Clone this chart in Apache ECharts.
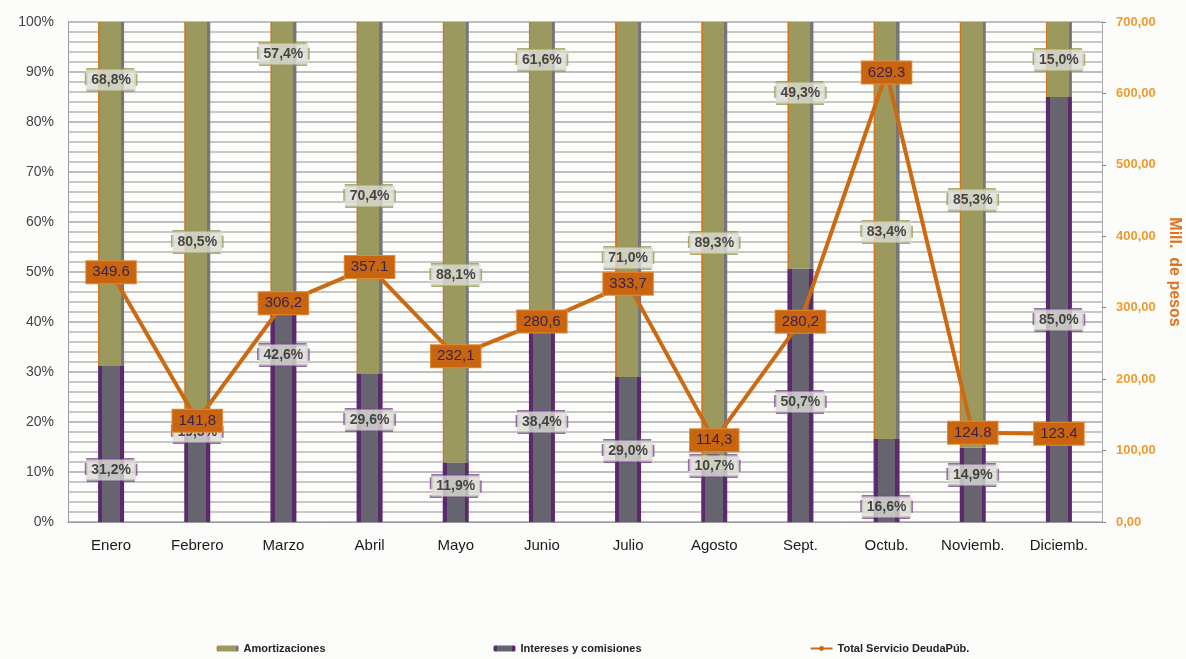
<!DOCTYPE html>
<html>
<head>
<meta charset="utf-8">
<script src="https://cdn.jsdelivr.net/npm/echarts@6/dist/echarts.min.js"></script>
<style>
  html, body { margin: 0; padding: 0; background: #fcfcfa; }
  #chart { width: 1186px; height: 659px; }
</style>
</head>
<body>
<div id="chart"></div>
<script>
const months = ['Enero', 'Febrero', 'Marzo', 'Abril', 'Mayo', 'Junio', 'Julio', 'Agosto', 'Sept.', 'Octub.', 'Noviemb.', 'Diciemb.']
const intereses = [31.2, 19.5, 42.6, 29.6, 11.9, 38.4, 29.0, 10.7, 50.7, 16.6, 14.9, 85.0]
const amortizaciones = [68.8, 80.5, 57.4, 70.4, 88.1, 61.6, 71.0, 89.3, 49.3, 83.4, 85.3, 15.0]
const totalServicio = [349.6, 141.8, 306.2, 357.1, 232.1, 280.6, 333.7, 114.3, 280.2, 629.3, 124.8, 123.4]
// decimal separator as printed on each total label
const totalSep = ['.', ',', ',', '.', ',', ',', ',', ',', ',', '.', '.', '.']
// where the percent labels were dragged to (in % of the left axis)
const intLabelAt = [10.4, 18, 33.4, 20.4, 7.2, 20, 14.2, 11.2, 24, 3, 9.4, 40.4]
const amoLabelAt = [88.4, 56, 93.6, 65.2, 49.4, 92.4, 52.8, 55.8, 85.8, 58, 64.4, 92.4]
const leftTicks = { min: 0, max: 100, interval: 10 }
const rightTicks = { min: 0, max: 700, interval: 100 }

const font = '"Liberation Sans", Arial, sans-serif'
const pct = (v) => v.toFixed(1).replace('.', ',') + '%'

const hardGradient = (stops) => ({
  type: 'linear', x: 0, y: 0, x2: 1, y2: 0,
  colorStops: stops
})

const purpleFill = hardGradient([
  { offset: 0, color: '#5b2a6c' }, { offset: 0.16, color: '#5b2a6c' },
  { offset: 0.16, color: '#66656f' }, { offset: 0.84, color: '#66656f' },
  { offset: 0.84, color: '#5b2a6c' }, { offset: 1, color: '#5b2a6c' }
])
const oliveFill = hardGradient([
  { offset: 0, color: '#d0781e' }, { offset: 0.06, color: '#d0781e' },
  { offset: 0.06, color: '#9b995d' }, { offset: 0.88, color: '#9b995d' },
  { offset: 0.88, color: '#76767a' }, { offset: 1, color: '#76767a' }
])

const pctLabel = (values, border) => ({
  show: true,
  position: 'inside',
  formatter: (p) => pct(values[p.dataIndex]),
  fontFamily: font,
  fontSize: 14,
  fontWeight: 'bold',
  color: '#1e1e1e',
  backgroundColor: '#dcdcd6',
  borderColor: border,
  borderWidth: 1.5,
  borderType: 'dashed',
  padding: [4, 5, 3, 5]
})

const chart = echarts.init(document.getElementById('chart'))
chart.setOption({
  backgroundColor: '#fcfcfa',
  animation: false,
  grid: { left: 68, right: 84, top: 22, bottom: 137, outerBoundsMode: 'none' },
  legend: {
    bottom: 0,
    left: 'center',
    itemGap: 168,
    itemWidth: 22,
    itemHeight: 6,
    textStyle: { fontFamily: font, fontSize: 11, fontWeight: 'bold', color: '#222' },
    data: ['Amortizaciones', 'Intereses y comisiones', 'Total Servicio DeudaPúb.']
  },
  xAxis: {
    type: 'category',
    data: months,
    axisLine: { lineStyle: { color: '#999', width: 1 } },
    axisTick: { show: false },
    axisLabel: { fontFamily: font, fontSize: 15, color: '#1a1a1a', margin: 16 }
  },
  yAxis: [{
    type: 'value',
    ...leftTicks,
    axisLine: { show: true, lineStyle: { color: '#999' } },
    axisTick: { show: false },
    axisLabel: { fontFamily: font, fontSize: 14, color: '#444', margin: 14, formatter: (v) => v + '%' },
    splitLine: { lineStyle: { color: '#aaaaaa', width: 1.5 } },
    minorTick: { show: false, splitNumber: 5 },
    minorSplitLine: { show: true, lineStyle: { color: '#b6b6b6', width: 1.5 } }
  }, {
    type: 'value',
    ...rightTicks,
    position: 'right',
    name: 'Mill.  de pesos',
    nameLocation: 'middle',
    nameRotate: -90,
    nameGap: 62,
    nameTextStyle: { fontFamily: font, fontSize: 16, fontWeight: 'bold', color: '#e2711c' },
    axisLine: { show: true, lineStyle: { color: '#aaa' } },
    axisTick: { show: true, length: 4, lineStyle: { color: '#888' } },
    axisLabel: {
      fontFamily: font, fontSize: 13, fontWeight: 'bold', color: '#f09a30', margin: 14,
      formatter: (v) => v.toFixed(2).replace('.', ',')
    },
    splitLine: { show: false }
  }],
  series: [{
    name: 'Intereses y comisiones',
    type: 'bar',
    stack: 'share',
    barWidth: 26,
    data: intereses,
    itemStyle: { color: purpleFill },
    emphasis: { disabled: true }
  }, {
    name: 'Amortizaciones',
    type: 'bar',
    stack: 'share',
    barWidth: 26,
    data: amortizaciones,
    itemStyle: { color: oliveFill },
    emphasis: { disabled: true }
  }, {
    name: 'intLabels',
    type: 'scatter',
    data: intLabelAt,
    symbolSize: 1,
    itemStyle: { color: 'rgba(0,0,0,0)' },
    label: pctLabel(intereses, '#7b4a8c'),
    silent: true,
    z: 4
  }, {
    name: 'amoLabels',
    type: 'scatter',
    data: amoLabelAt,
    symbolSize: 1,
    itemStyle: { color: 'rgba(0,0,0,0)' },
    label: pctLabel(amortizaciones, '#9a9a50'),
    silent: true,
    z: 4
  }, {
    name: 'Total Servicio DeudaPúb.',
    type: 'line',
    yAxisIndex: 1,
    data: totalServicio,
    symbol: 'circle',
    symbolSize: 5,
    lineStyle: { color: '#cc6a12', width: 4 },
    itemStyle: { color: '#cc6a12' },
    z: 6,
    label: {
      show: true,
      position: 'inside',
      formatter: (p) => p.value.toFixed(1).replace('.', totalSep[p.dataIndex]),
      fontFamily: font,
      fontSize: 15,
      color: '#3a2350',
      backgroundColor: '#c9640f',
      borderColor: '#e08a3a',
      borderWidth: 1,
      padding: [4, 6, 3, 6]
    }
  }]
})
</script>
</body>
</html>
